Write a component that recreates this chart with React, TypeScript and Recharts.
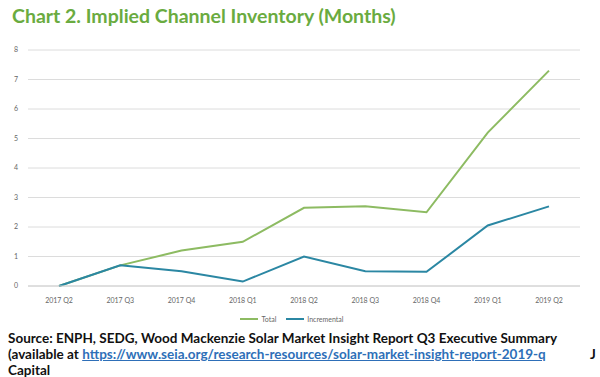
import React from "react";
import {
  CartesianGrid,
  Legend,
  Line,
  LineChart,
  XAxis,
  YAxis,
} from "recharts";

const quarters = [
  "2017 Q2",
  "2017 Q3",
  "2017 Q4",
  "2018 Q1",
  "2018 Q2",
  "2018 Q3",
  "2018 Q4",
  "2019 Q1",
  "2019 Q2",
];
const totalMonths = [0, 0.7, 1.2, 1.5, 2.65, 2.7, 2.5, 5.2, 7.3];
const incrementalMonths = [0, 0.7, 0.5, 0.15, 1.0, 0.5, 0.48, 2.05, 2.7];
const yTicks = [0, 1, 2, 3, 4, 5, 6, 7, 8];
const seriesNames = ["Total", "Incremental"];

const data = quarters.map((q, i) => ({
  quarter: q,
  Total: totalMonths[i],
  Incremental: incrementalMonths[i],
}));

const GREEN = "#8dbb62";
const TEAL = "#2b87a3";
const seriesColors: Record<string, string> = { Total: GREEN, Incremental: TEAL };

function LegendRow(): React.ReactElement {
  return (
    <div
      style={{
        display: "flex",
        justifyContent: "center",
        alignItems: "center",
        gap: 10,
        fontSize: 7,
        color: "#666",
        paddingLeft: 4,
        paddingTop: 9,
      }}
    >
      {seriesNames.map((name) => (
        <span key={name} style={{ display: "flex", alignItems: "center" }}>
          <span
            style={{
              display: "inline-block",
              width: 18,
              height: 2,
              background: seriesColors[name],
              marginRight: 3,
            }}
          />
          {name}
        </span>
      ))}
    </div>
  );
}

export default function App(): React.ReactElement {
  return (
    <div
      style={{
        position: "absolute",
        top: 0,
        left: 0,
        width: 600,
        height: 377,
        background: "#fff",
        overflow: "hidden",
        fontFamily: "Lato, sans-serif",
      }}
    >
      <div
        style={{
          position: "absolute",
          top: 4,
          left: 12,
          fontSize: 19.5,
          fontWeight: 700,
          color: "#6aab40",
          whiteSpace: "nowrap",
        }}
      >
        Chart 2. Implied Channel Inventory (Months)
      </div>
      <div style={{ position: "absolute", top: 40, left: 0 }}>
        <LineChart
          width={600}
          height={290}
          data={data}
          margin={{ top: 10, right: 20, bottom: 4, left: 0 }}
        >
          <CartesianGrid vertical={false} stroke="#dcdcdc" />
          <XAxis
            dataKey="quarter"
            height={20}
            padding={{ left: 31, right: 31 }}
            tickLine={false}
            axisLine={{ stroke: "#d0d0d0" }}
            tick={{ fontSize: 7, fill: "#666" }}
            tickMargin={6}
          />
          <YAxis
            width={28}
            domain={[0, 8]}
            ticks={yTicks}
            tickLine={false}
            axisLine={false}
            tickSize={0}
            tickMargin={10}
            tick={{ fontSize: 7, fill: "#666" }}
          />
          <Legend height={20} content={() => <LegendRow />} />
          <Line
            type="linear"
            dataKey="Total"
            stroke={GREEN}
            strokeWidth={2}
            dot={false}
            isAnimationActive={false}
          />
          <Line
            type="linear"
            dataKey="Incremental"
            stroke={TEAL}
            strokeWidth={2}
            dot={false}
            isAnimationActive={false}
          />
        </LineChart>
      </div>
      <div
        style={{
          position: "absolute",
          top: 330,
          left: 8,
          fontSize: 13.5,
          fontWeight: 700,
          lineHeight: "16px",
          color: "#111",
          whiteSpace: "nowrap",
        }}
      >
        <div>
          Source: ENPH, SEDG, Wood Mackenzie Solar Market Insight Report Q3
          Executive Summary
        </div>
        <div>
          (available at{" "}
          <span style={{ color: "#2e6fb8", textDecoration: "underline" }}>
            https://www.seia.org/research-resources/solar-market-insight-report-2019-q
          </span>
        </div>
        <div>Capital</div>
      </div>
      <div
        style={{
          position: "absolute",
          top: 346,
          left: 590,
          fontSize: 13.5,
          fontWeight: 700,
          lineHeight: "16px",
          color: "#111",
        }}
      >
        J
      </div>
    </div>
  );
}
